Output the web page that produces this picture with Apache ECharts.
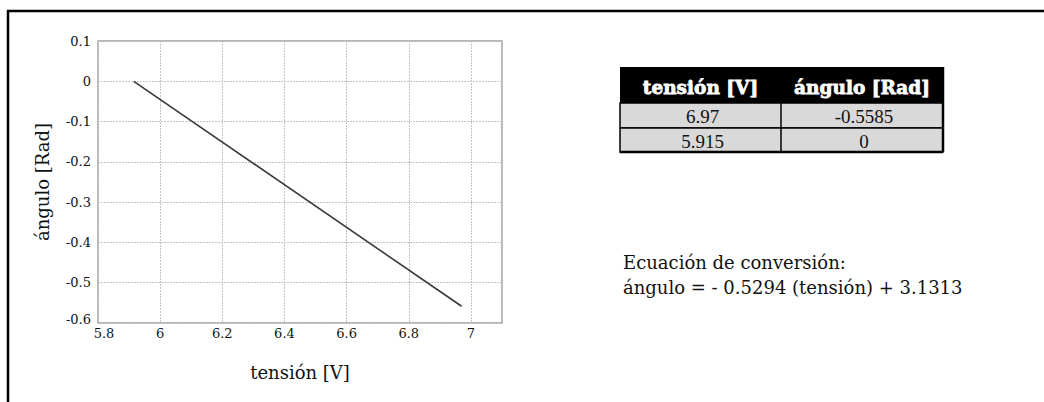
<!DOCTYPE html>
<html>
<head>
<meta charset="utf-8">
<style>
  html, body { margin: 0; padding: 0; background: #fff; }
  #chart { width: 1044px; height: 402px; }
</style>
<script src="https://cdn.jsdelivr.net/npm/echarts@6/dist/echarts.min.js"></script>
</head>
<body>
<div id="chart"></div>
<script>
// Calibration points: voltage and corresponding angle
const tableHeaders = ['tensión [V]', 'ángulo [Rad]'];
const tension = [6.97, 5.915];
const angulo = [-0.5585, 0];
const tensionText = ['6.97', '5.915'];
const anguloText = ['-0.5585', '0'];

// Axis tick labels
const xTickLabels = ['5.8', '6', '6.2', '6.4', '6.6', '6.8', '7'];
const yTickLabels = ['0.1', '0', '-0.1', '-0.2', '-0.3', '-0.4', '-0.5', '-0.6'];

const equationLines = ['Ecuación de conversión:', 'ángulo = - 0.5294 (tensión) + 3.1313'];

const serif = '"DejaVu Serif", "Liberation Serif", serif';
const numSerif = '"Liberation Serif", "DejaVu Serif", serif';

// Line through the two calibration points, sorted by voltage
const linePoints = tension.map((t, i) => [t, angulo[i]]).sort((a, b) => a[0] - b[0]);

// Table drawn as graphic elements
const tblX = [620, 781, 943];
const tblY = [67, 103, 128, 152];
const tableGraphics = [];
tableGraphics.push({ type: 'rect', shape: { x: tblX[0], y: tblY[0], width: tblX[2] - tblX[0], height: tblY[1] - tblY[0] }, style: { fill: '#000' } });
for (let r = 0; r < 2; r++) {
  tableGraphics.push({ type: 'rect', shape: { x: tblX[0], y: tblY[r + 1], width: tblX[2] - tblX[0], height: tblY[r + 2] - tblY[r + 1] }, style: { fill: '#d9d9d9', stroke: '#000', lineWidth: 1.5 } });
}
tableGraphics.push({ type: 'line', shape: { x1: tblX[1], y1: tblY[1], x2: tblX[1], y2: tblY[3] }, style: { stroke: '#000', lineWidth: 1.5 } });
tableGraphics.push({ type: 'line', shape: { x1: tblX[2], y1: tblY[0], x2: tblX[2], y2: tblY[3] }, style: { stroke: '#000', lineWidth: 2.5 } });
tableGraphics.push({ type: 'line', shape: { x1: tblX[0], y1: tblY[3], x2: tblX[2], y2: tblY[3] }, style: { stroke: '#000', lineWidth: 2.5 } });
tableHeaders.forEach((h, c) => {
  tableGraphics.push({ type: 'text', x: (tblX[c] + tblX[c + 1]) / 2, y: (tblY[0] + tblY[1]) / 2 + 2,
    style: { text: h, fill: '#fff', stroke: '#fff', lineWidth: 0.8, font: 'bold 18.5px ' + serif, align: 'center', verticalAlign: 'middle' } });
});
[tensionText, anguloText].forEach((col, c) => {
  col.forEach((v, r) => {
    tableGraphics.push({ type: 'text', x: (tblX[c] + tblX[c + 1]) / 2 + 2, y: (tblY[r + 1] + tblY[r + 2]) / 2 + 1,
      style: { text: v, fill: '#111', font: '19px ' + numSerif, align: 'center', verticalAlign: 'middle' } });
  });
});

const tickFont = { fontFamily: serif, fontSize: 13, color: '#111' };

const chart = echarts.init(document.getElementById('chart'), null, { renderer: 'svg' });
chart.setOption({
  animation: false,
  backgroundColor: '#fff',
  grid: { left: 98, top: 41, width: 404, height: 282, show: true, borderColor: '#a0a0a0', borderWidth: 1.5, backgroundColor: 'transparent' },
  xAxis: {
    type: 'value', min: 5.8, max: 7.1, interval: 0.2,
    name: 'tensión [V]', nameLocation: 'middle', nameGap: 40,
    nameTextStyle: { fontFamily: serif, fontSize: 18, color: '#111' },
    axisLine: { show: false }, axisTick: { show: false },
    axisLabel: Object.assign({
      margin: 4,
      formatter: v => {
        const s = String(+v.toFixed(2));
        if (!xTickLabels.includes(s)) return '';
        return s === xTickLabels[0] ? '{first|' + s + '}' : s;
      },
      rich: { first: Object.assign({ padding: [0, 0, 0, 12] }, tickFont) }
    }, tickFont),
    splitLine: { show: true, lineStyle: { color: '#c4c4c4', type: [2, 1], width: 1 } }
  },
  yAxis: {
    type: 'value', min: -0.6, max: 0.1, interval: 0.1,
    name: 'ángulo [Rad]', nameLocation: 'middle', nameGap: 47, nameRotate: 90,
    nameTextStyle: { fontFamily: serif, fontSize: 18, color: '#111' },
    axisLine: { show: false }, axisTick: { show: false },
    axisLabel: Object.assign({
      margin: 7,
      formatter: v => {
        const s = String(+v.toFixed(2));
        if (!yTickLabels.includes(s)) return '';
        return s === yTickLabels[yTickLabels.length - 1] ? '{last|' + s + '}' : s;
      },
      rich: { last: Object.assign({ padding: [0, 0, 8, 0] }, tickFont) }
    }, tickFont),
    splitLine: { show: true, lineStyle: { color: '#c4c4c4', type: [2, 1], width: 1 } }
  },
  series: [{
    type: 'line', data: linePoints, symbol: 'none',
    lineStyle: { color: '#3a3a3a', width: 1.6 }
  }],
  graphic: [
    { type: 'line', shape: { x1: 7, y1: 11, x2: 1044, y2: 11 }, style: { stroke: '#000', lineWidth: 2.5 } },
    { type: 'line', shape: { x1: 8, y1: 10, x2: 8, y2: 402 }, style: { stroke: '#000', lineWidth: 2.5 } },
    ...tableGraphics,
    { type: 'text', x: 623, y: 262, style: { text: equationLines[0], fill: '#111', font: '18px ' + serif, verticalAlign: 'middle' } },
    { type: 'text', x: 623, y: 287, style: { text: equationLines[1], fill: '#111', font: '18px ' + serif, verticalAlign: 'middle' } }
  ]
});
</script>
</body>
</html>
